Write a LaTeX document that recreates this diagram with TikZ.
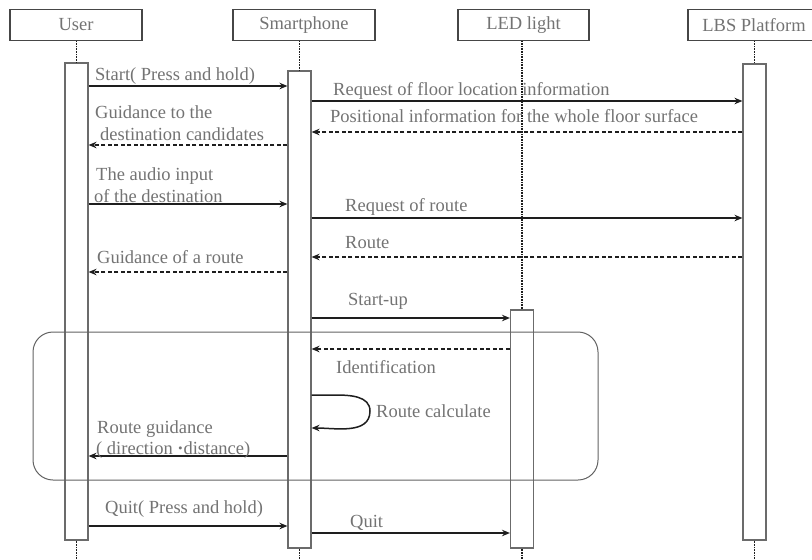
\documentclass[tikz,border=0pt]{standalone}
\usepackage{fontspec}
\setmainfont{Liberation Serif}
\usepackage{xcolor}
\usepackage{tikz}
\usetikzlibrary{arrows.meta}

\definecolor{txtgray}{RGB}{115,115,115}
\definecolor{boxgray}{RGB}{70,70,70}
\definecolor{linegray}{RGB}{30,30,30}

\tikzset{
  hdr/.style={draw=boxgray, line width=1.5pt, minimum height=31pt, inner sep=0pt, text=txtgray},
  bar/.style={draw=boxgray!80, line width=1.1pt, fill=white, minimum width=23pt, inner sep=0pt},
  lifeline/.style={linegray, line width=1.6pt, dash pattern=on 1pt off 0.6pt},
  msg/.style={linegray, line width=1.8pt, -{Stealth[length=8pt,width=6.5pt]}},
  reply/.style={msg, dash pattern=on 4pt off 2.5pt},
  lbl/.style={anchor=base west, inner sep=0pt, text=txtgray},
}

\begin{document}
\begin{tikzpicture}[x=1pt, y=-1pt, font=\fontsize{18.5}{21}\selectfont]

%---------------- size parameters ----------------%
\def\pageW{812}   % picture width
\def\pageH{560}   % picture height
\def\hdrY{25}     % header row centre

\useasboundingbox (0,0) rectangle (\pageW,\pageH);

%---------------- headers ----------------%
\node[hdr, minimum width=132pt] (user)  at (76,\hdrY)    {User};
\node[hdr, minimum width=142pt] (smart) at (304,\hdrY)   {Smartphone};
\node[hdr, minimum width=131pt] (led)   at (523.5,\hdrY) {LED light};
\node[hdr, minimum width=132pt] (lbs)   at (754,\hdrY)   {LBS Platform};

%---------------- activation bars ----------------%
\node[bar, minimum height=477pt] (ubar) at (76.5,301.5) {};
\node[bar, minimum height=477pt] (sbar) at (299.5,309.5) {};
\node[bar, minimum height=238pt] (lbar) at (522,429) {};
\node[bar, minimum height=476pt] (pbar) at (754.5,302) {};

%---------------- lifelines ----------------%
\foreach \h/\b in {user/ubar, smart/sbar, led/lbar, lbs/pbar} {%
  \draw[lifeline] (\b.north |- \h.south) -- (\b.north);
  \draw[lifeline] (\b.south) -- (\b.south |- 0,\pageH);
}

%---------------- messages ----------------%
\foreach \y/\a/\b/\s in {86/ubar.east/sbar.west/msg,
                        101/sbar.east/pbar.west/msg,
                        132/pbar.west/sbar.east/reply,
                        145/sbar.west/ubar.east/reply,
                        204/ubar.east/sbar.west/msg,
                        218/sbar.east/pbar.west/msg,
                        257/pbar.west/sbar.east/reply,
                        272/sbar.west/ubar.east/reply,
                        318/sbar.east/lbar.west/msg,
                        349/lbar.west/sbar.east/reply,
                        456/sbar.west/ubar.east/msg,
                        526/ubar.east/sbar.west/msg,
                        533/sbar.east/lbar.west/msg} {%
  \draw[\s] (\a |- 0,\y) -- (\b |- 0,\y);
}

% self call on the smartphone
\coordinate (calcpt) at (370,411);
\draw[msg, line width=1.5pt] (sbar.east |- 0,395) -- (335,395) to[out=0,in=90] (calcpt)
  to[out=-90,in=0] (sbar.east |- 0,428);

%---------------- labels ----------------%
\node[lbl] (l1)  at (95,80)   {Start( Press and hold)};
\node[lbl] (l2)  at (333,95)  {Request of floor location information};
\node[lbl] (l3)  at (330,122) {Positional information for the whole floor surface};
\node[lbl] (l4a) at (95,118)  {Guidance to the};
\node[lbl] (l4b) at (100,140) {destination candidates};
\node[lbl] (l5a) at (96,180)  {The audio input};
\node[lbl] (l5b) at (94,202)  {of the destination};
\node[lbl] (l6)  at (345,211) {Request of route};
\node[lbl] (l7)  at (345,248) {Route};
\node[lbl] (l8)  at (97,263)  {Guidance of a route};
\node[lbl] (l9)  at (348,305) {Start-up};
\node[lbl] (l10) at (336,373) {Identification};
\node[lbl] (l11) at (376,417) {Route calculate};
\node[lbl] (l12a) at (97,433) {Route guidance};
\node[lbl] (l12b) at (96,454) {( direction {\bfseries ·}distance)};
\node[lbl] (l13) at (105,513) {Quit( Press and hold)};
\node[lbl] (l14) at (350,527) {Quit};

%---------------- guidance frame ----------------%
\draw[boxgray!85, line width=1pt, rounded corners=20pt] (33,332) rectangle (598,480);

\end{tikzpicture}
\end{document}
